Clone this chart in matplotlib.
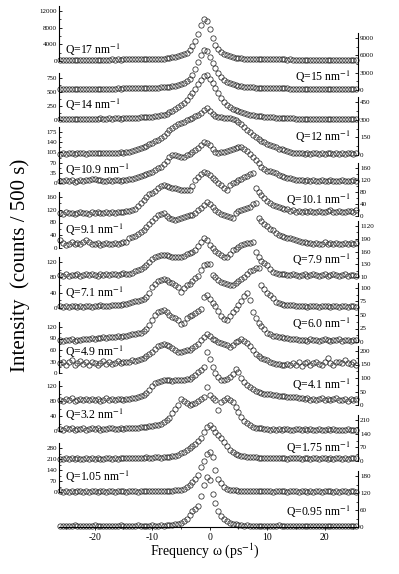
import numpy as np
import matplotlib
matplotlib.use('Agg')
import matplotlib.pyplot as plt
from matplotlib.ticker import AutoMinorLocator

plt.rcParams['font.family'] = ['Liberation Serif', 'DejaVu Serif']
plt.rcParams['mathtext.fontset'] = 'stix'
plt.rcParams['axes.unicode_minus'] = False

# energy transfer grid (ps^-1)
omega = np.arange(-26.0, 26.0, 0.5)

# spectra, counts / 500 s (top to bottom)
q17 = [320, 300, 340, 310, 290, 330, 300, 320, 350, 310, 330, 300, 340, 320, 360, 330, 350, 340, 370, 360, 380, 350, 390, 400,
       410, 420, 400, 440, 450, 470, 460, 490, 510, 530, 560, 590,
       600, 680, 760, 860, 980, 1140, 1350, 1620, 2000, 2600, 3500, 4800,
       6600, 8700, 10100, 9600, 7800, 5600, 3900, 2800, 2100, 1650, 1350, 1120,
       950, 830, 740, 660, 600, 560, 520, 490, 470, 450, 430, 420,
       410, 400, 390, 400, 380, 370, 380, 360, 370, 350, 360, 340,
       350, 340, 330, 350, 320, 340, 330, 310, 330, 320, 300, 320, 310, 330, 300, 310, 320, 300, 310, 300]
q15 = [180, 200, 170, 190, 210, 180, 200, 190, 220, 200, 180, 210, 230, 200, 220, 240, 210, 230, 250, 240, 260, 250, 280, 290,
       300, 290, 320, 330, 340, 360, 370, 390, 400, 410, 420, 440,
       450, 500, 560, 630, 710, 830, 990, 1200, 1500, 1950, 2650, 3650,
       4800, 6000, 6900, 6700, 5700, 4700, 3800, 3000, 2300, 1800, 1450, 1180,
       980, 840, 720, 640, 570, 520, 480, 440, 410, 380, 360, 340,
       320, 310, 300, 290, 280, 270, 260, 260, 250, 240, 240, 230,
       230, 220, 230, 210, 220, 200, 210, 220, 200, 190, 210, 200, 190, 200, 180, 190, 200, 180, 190, 180]
q14 = [15, 20, 10, 18, 22, 14, 20, 16, 24, 18, 22, 26, 20, 24, 28, 22, 26, 30, 24, 28, 32, 26, 30, 34,
       36, 40, 38, 44, 46, 50, 52, 56, 60, 66, 74, 84,
       95, 112, 135, 165, 200, 230, 265, 310, 360, 420, 480, 560,
       640, 715, 780, 805, 740, 660, 570, 480, 395, 330, 275, 235,
       200, 175, 155, 138, 122, 108, 97, 88, 80, 73, 66, 60,
       55, 50, 46, 42, 40, 37, 34, 32, 30, 28, 26, 25,
       24, 22, 25, 20, 22, 18, 21, 23, 19, 20, 17, 22, 19, 18, 21, 16, 20, 18, 17, 19]
q12 = [12, 15, 10, 14, 17, 11, 16, 13, 18, 12, 15, 19, 13, 16, 14, 18, 15, 20, 17, 14, 19, 22, 18, 24,
       25, 30, 40, 48, 56, 68, 80, 92, 105, 115, 127, 142,
       160, 185, 212, 232, 248, 262, 274, 284, 298, 306, 318, 328,
       340, 360, 385, 402, 372, 345, 332, 325, 320, 318, 316, 312,
       305, 295, 282, 262, 238, 212, 195, 172, 153, 135, 122, 108,
       95, 85, 75, 65, 55, 47, 40, 32, 25, 20, 17, 15,
       14, 12, 16, 11, 13, 15, 10, 14, 12, 16, 13, 11, 15, 12, 14, 10, 13, 15, 12, 14]
q10_9 = [8, 6, 10, 7, 9, 5, 8, 11, 7, 10, 12, 13, 15, 12, 9, 7, 8, 10, 6, 9, 11, 8, 10, 12,
         13, 15, 17, 20, 24, 27, 30, 34, 38, 44, 50, 56,
         65, 75, 88, 96, 95, 92, 89, 90, 95, 100, 106, 112,
         120, 130, 141, 136, 130, 118, 106, 104, 106, 106, 110, 113,
         117, 120, 122, 123, 118, 110, 100, 90, 79, 68, 56, 48,
         42, 40, 38, 33, 28, 24, 21, 18, 16, 14, 12, 11,
         10, 8, 9, 7, 10, 8, 6, 9, 7, 8, 10, 6, 8, 7, 9, 6, 8, 7, 9, 8]
q10_1 = [10, 8, 12, 9, 11, 7, 10, 13, 9, 11, 8, 12, 10, 14, 11, 9, 12, 10, 13, 11, 14, 12, 15, 17,
         18, 20, 25, 35, 45, 53, 62, 72, 78, 85, 92, 100,
         103, 100, 97, 95, 92, 90, 88, 86, 87, 86, 100, 120,
         130, 140, 147, 143, 137, 128, 120, 110, 103, 95, 87, 105,
         110, 115, 120, 125, 130, 135, 140, 143, 93, 80, 70, 60,
         50, 44, 38, 34, 30, 27, 25, 22, 18, 20, 15, 17,
         14, 16, 12, 18, 15, 13, 17, 14, 12, 16, 19, 14, 13, 17, 15, 12, 16, 18, 14, 20]
q9_1 = [25, 16, 10, 14, 18, 11, 15, 13, 20, 25, 18, 14, 12, 16, 10, 13, 15, 11, 14, 17, 12, 16, 18, 20,
        30, 34, 38, 44, 50, 57, 65, 75, 85, 95, 102, 108,
        110, 100, 94, 90, 88, 90, 94, 96, 100, 102, 104, 110,
        119, 126, 135, 144, 138, 130, 120, 113, 108, 104, 100, 96,
        94, 110, 115, 119, 122, 126, 130, 138, 141, 94, 85, 75,
        68, 60, 55, 48, 41, 38, 35, 32, 30, 27, 25, 22,
        20, 18, 15, 17, 13, 16, 12, 14, 18, 11, 15, 13, 16, 12, 14, 17, 11, 15, 13, 16]
q7_9 = [104, 103, 106, 102, 105, 104, 107, 103, 105, 106, 104, 108, 105, 103, 106, 104, 107, 105, 108, 106, 104, 107, 109, 106,
        108, 110, 113, 116, 120, 124, 128, 136, 143, 147, 150, 151,
        152, 152, 150, 148, 147, 147, 148, 150, 153, 156, 158, 164,
        172, 182, 192, 186, 175, 168, 162, 157, 152, 148, 147, 155,
        163, 167, 171, 175, 177, 179, 181, 182, 159, 148, 138, 133,
        128, 120, 112, 110, 108, 106, 107, 105, 104, 106, 105, 103,
        104, 106, 103, 105, 107, 104, 102, 105, 106, 103, 104, 107, 105, 103, 104, 106, 102, 105, 104, 103]
q7_1 = [4, 2, 5, 3, 6, 4, 2, 5, 3, 4, 6, 3, 5, 4, 7, 5, 4, 6, 8, 7, 9, 8, 10, 11,
        14, 15, 17, 18, 20, 23, 30, 40, 55, 62, 70, 74,
        76, 73, 68, 64, 60, 55, 42, 52, 60, 63, 70, 78,
        84, 100, 112, 114, 115, 86, 80, 74, 68, 64, 62, 60,
        60, 64, 70, 75, 82, 90, 96, 100, 104, 104, 60, 50,
        40, 34, 25, 16, 12, 10, 9, 8, 8, 7, 6, 5,
        4, 5, 3, 6, 4, 5, 3, 4, 6, 5, 3, 4, 5, 2, 4, 6, 3, 5, 4, 3]
q6_0 = [3, 2, 4, 3, 5, 2, 4, 3, 5, 6, 5, 7, 6, 8, 7, 9, 8, 9, 10, 9, 11, 10, 12, 11,
        13, 14, 15, 16, 17, 20, 25, 32, 40, 50, 56, 58,
        59, 55, 50, 46, 45, 40, 33, 36, 45, 48, 50, 53,
        57, 62, 83, 87, 80, 72, 66, 58, 48, 43, 41, 48,
        55, 62, 68, 76, 85, 91, 78, 55, 45, 36, 30, 24,
        16, 14, 12, 11, 10, 9, 8, 7, 6, 5, 5, 4,
        3, 4, 2, 5, 3, 4, 2, 3, 5, 3, 2, 4, 3, 5, 2, 4, 3, 2, 4, 3]
q4_9 = [26, 30, 22, 28, 34, 20, 25, 31, 24, 28, 22, 30, 26, 21, 27, 32, 24, 29, 23, 27, 31, 25, 28, 30,
        29, 33, 31, 34, 37, 40, 45, 50, 55, 62, 70, 73,
        76, 74, 70, 65, 60, 56, 55, 57, 59, 60, 64, 70,
        76, 86, 95, 102, 96, 89, 85, 82, 79, 75, 72, 68,
        74, 80, 84, 89, 84, 78, 70, 60, 50, 44, 40, 36,
        33, 30, 27, 24, 23, 22, 21, 24, 20, 26, 22, 28,
        18, 25, 30, 22, 27, 28, 24, 20, 28, 39, 26, 22, 30, 29, 25, 34, 27, 23, 30, 22]
q4_1 = [20, 15, 22, 18, 25, 16, 20, 23, 17, 21, 19, 24, 18, 22, 16, 20, 25, 19, 23, 17, 21, 24, 20, 22,
        22, 25, 27, 30, 33, 37, 45, 55, 70, 80, 85, 90,
        92, 92, 92, 90, 92, 91, 92, 93, 95, 98, 104, 111,
        122, 130, 140, 196, 170, 140, 118, 104, 94, 92, 95, 104,
        115, 133, 122, 100, 85, 75, 66, 58, 52, 47, 43, 41,
        40, 39, 38, 37, 35, 33, 32, 31, 30, 29, 28, 26,
        25, 22, 27, 20, 24, 18, 23, 26, 19, 22, 17, 21, 25, 18, 20, 23, 16, 21, 19, 24]
q3_2 = [6, 4, 7, 5, 8, 3, 6, 5, 7, 4, 6, 8, 5, 7, 4, 6, 5, 7, 8, 6, 5, 7, 6, 8,
        7, 8, 9, 8, 10, 11, 12, 13, 14, 15, 17, 20,
        24, 29, 36, 48, 58, 70, 86, 80, 75, 70, 72, 75,
        80, 85, 90, 117, 96, 88, 83, 56, 78, 82, 88, 82,
        77, 65, 50, 37, 28, 22, 15, 11, 9, 8, 7, 6,
        5, 4, 6, 3, 5, 4, 6, 5, 3, 4, 5, 6,
        4, 5, 3, 6, 4, 2, 5, 3, 4, 6, 3, 5, 4, 2, 4, 3, 5, 4, 3, 4]
q1_75 = [12, 10, 14, 9, 13, 11, 15, 10, 12, 14, 9, 13, 11, 16, 12, 10, 14, 13, 11, 15, 12, 14, 13, 15,
         13, 16, 14, 17, 15, 16, 18, 16, 17, 19, 18, 17,
         18, 20, 22, 25, 28, 33, 40, 48, 56, 65, 78, 88,
         100, 118, 150, 174, 184, 169, 150, 135, 118, 96, 75, 55,
         44, 34, 30, 27, 24, 22, 20, 19, 18, 17, 16, 16,
         16, 14, 17, 15, 13, 16, 14, 12, 15, 13, 16, 14,
         12, 15, 13, 11, 16, 14, 12, 15, 13, 10, 14, 12, 16, 13, 11, 15, 12, 14, 13, 16]
q1_05 = [4, 2, 6, 3, 5, 1, 4, 7, 3, 5, 2, 6, 4, 3, 5, 7, 2, 4, 6, 3, 5, 4, 6, 3,
         5, 4, 6, 3, 5, 7, 4, 6, 5, 4, 7, 6,
         5, 7, 6, 8, 10, 11, 13, 20, 30, 45, 64, 85,
         108, 160, 200, 240, 254, 225, 140, 80, 55, 35, 22, 15,
         12, 10, 9, 8, 7, 8, 6, 5, 7, 4, 6, 5,
         4, 6, 3, 5, 7, 4, 5, 3, 6, 4, 5, 2,
         4, 6, 3, 5, 2, 4, 7, 3, 5, 4, 6, 3, 5, 2, 4, 6, 3, 5, 4, 3]
q0_95 = [4, 3, 5, 2, 4, 6, 3, 5, 4, 2, 5, 3, 6, 4, 3, 5, 4, 2, 5, 3, 4, 6, 3, 4,
         5, 3, 4, 6, 4, 5, 3, 5, 6, 4, 5, 6,
         5, 6, 7, 8, 10, 12, 14, 20, 30, 42, 55, 65,
         75, 110, 150, 177, 165, 116, 85, 56, 38, 27, 20, 14,
         11, 9, 7, 6, 5, 6, 4, 5, 3, 4, 5, 3,
         4, 5, 3, 4, 6, 3, 5, 4, 2, 4, 5, 3,
         4, 3, 5, 2, 4, 3, 5, 4, 3, 2, 4, 5, 3, 4, 2, 3, 5, 4, 3, 4]

q_labels = ['17', '15', '14', '12', '10.9', '10.1', '9.1', '7.9',
            '7.1', '6.0', '4.9', '4.1', '3.2', '1.75', '1.05', '0.95']
spectra = [q17, q15, q14, q12, q10_9, q10_1, q9_1, q7_9,
           q7_1, q6_0, q4_9, q4_1, q3_2, q1_75, q1_05, q0_95]
y_ticks = [[0, 4000, 8000, 12000], [0, 3000, 6000, 9000], [0, 250, 500, 750],
           [0, 150, 300, 450], [0, 35, 70, 105, 140, 175], [0, 40, 80, 120, 160],
           [0, 40, 80, 120, 160], [100, 130, 160, 190, 220], [0, 40, 80, 120],
           [0, 25, 50, 75, 100], [0, 30, 60, 90, 120], [0, 50, 100, 150, 200],
           [0, 40, 80, 120], [0, 70, 140, 210], [0, 70, 140, 210, 280], [0, 60, 120, 180]]
y_ticklabels = {7: ['10', '130', '160', '190', '1120']}

# layout in pixels: (zero-tick y, top-tick y, label centre y)
W, H = 399, 574
X0, X1 = 59, 358
layout = [(61, 11, 50), (90, 38, 77), (120, 78, 105), (155, 102, 137),
          (183, 132, 170), (216, 168, 200), (248, 197, 230), (277, 226, 260),
          (308, 262, 293), (342, 288, 324), (373, 327, 352), (405, 351, 385),
          (431, 386, 415), (461, 420, 448), (492, 448, 477), (527, 476, 512)]

fig = plt.figure(figsize=(W / 100, H / 100), dpi=100)

for i, (vals, q, ticks) in enumerate(zip(spectra, q_labels, y_ticks)):
    assert len(vals) == len(omega), (q, len(vals))
    y0, ytop, ylab = layout[i]
    left = (i % 2 == 0)
    lo, hi = ticks[0], ticks[-1]
    per_px = (hi - lo) / (y0 - ytop)
    margin = 5
    ax = fig.add_axes([X0 / W, (H - y0) / H, (X1 - X0) / W, (y0 - ytop + margin) / H])
    ax.patch.set_alpha(0)
    ax.set_xlim(-26.2, 25.8)
    ax.set_ylim(lo, hi + margin * per_px)
    ax.plot(omega, vals, 'o', mfc='none', mec='#2a2a2a', ms=3.8, mew=0.55,
            clip_on=False)
    for s in ['top', 'bottom', 'left', 'right']:
        ax.spines[s].set_visible(False)
    side = 'left' if left else 'right'
    ax.spines[side].set_visible(True)
    ax.spines[side].set_linewidth(0.8)
    if not left:
        ax.yaxis.tick_right()
    ax.set_yticks(ticks)
    if i in y_ticklabels:
        ax.set_yticklabels(y_ticklabels[i])
    ax.yaxis.set_minor_locator(AutoMinorLocator(2))
    ax.tick_params(axis='y', which='major', direction='in', length=2.5, width=0.6,
                   labelsize=5, pad=1.5)
    ax.tick_params(axis='y', which='minor', direction='in', length=1.4, width=0.5)
    if i == len(spectra) - 1:
        ax.spines['bottom'].set_visible(True)
        ax.spines['bottom'].set_linewidth(0.8)
        ax.set_xticks([-20, -10, 0, 10, 20])
        ax.xaxis.set_minor_locator(AutoMinorLocator(2))
        ax.tick_params(axis='x', which='major', direction='out', length=2.5, width=0.6,
                       labelsize=7, pad=2)
        ax.tick_params(axis='x', which='minor', direction='out', length=1.4, width=0.5)
    else:
        ax.set_xticks([])
    txt = 'Q=%s nm$^{-1}$' % q
    if left:
        fig.text(65 / W, (H - ylab) / H, txt, ha='left', va='center', fontsize=8.5)
    else:
        fig.text(351 / W, (H - ylab) / H, txt, ha='right', va='center', fontsize=8.5)

fig.text(20 / W, (H - 265) / H, 'Intensity  (counts / 500 s)', rotation=90,
         ha='center', va='center', fontsize=15)
fig.text(205 / W, (H - 551) / H, 'Frequency \u03c9 (ps$^{-1}$)', ha='center',
         va='center', fontsize=10)

fig.savefig('out.png', dpi=100)
